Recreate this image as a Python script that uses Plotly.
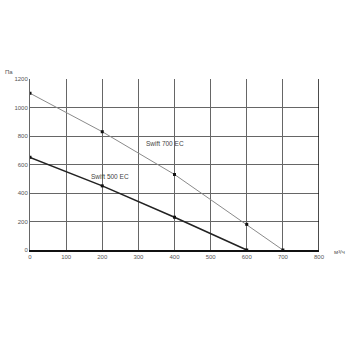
import plotly.graph_objects as go

flow_700 = [0, 200, 400, 600, 700]
pres_700 = [1100, 830, 530, 180, 0]
flow_500 = [0, 200, 400, 600]
pres_500 = [650, 450, 230, 0]
x_ticks = [0, 100, 200, 300, 400, 500, 600, 700, 800]
y_ticks = [0, 200, 400, 600, 800, 1000, 1200]

fig = go.Figure()
fig.add_trace(go.Scatter(x=flow_700, y=pres_700, mode="lines+markers",
                         line=dict(color="#8a8a8a", width=1),
                         marker=dict(symbol="square", size=3, color="#111")))
fig.add_trace(go.Scatter(x=flow_500, y=pres_500, mode="lines+markers",
                         line=dict(color="#222", width=1.6),
                         marker=dict(symbol="square", size=3, color="#111")))

fig.add_annotation(x=374, y=744, text="Swift 700 EC", showarrow=False,
                   font=dict(size=6.5, color="#444", family="Liberation Sans"))
fig.add_annotation(x=221, y=519, text="Swift 500 EC", showarrow=False,
                   font=dict(size=6.5, color="#444", family="Liberation Sans"))
fig.add_annotation(xref="paper", yref="paper", x=-0.095, y=1.07, text="Па", xanchor="left",
                   showarrow=False, font=dict(size=6, color="#555", family="Liberation Sans"))
fig.add_annotation(xref="paper", yref="paper", x=1.045, y=-0.04, text="м³/ч",
                   showarrow=False, xanchor="left", font=dict(size=6, color="#555", family="Liberation Sans"))

fig.add_shape(type="line", xref="x", yref="paper", x0=800, x1=800, y0=0, y1=1,
              line=dict(color="#111", width=1.5))

fig.update_xaxes(range=[0, 800], tickvals=x_ticks, showgrid=True, gridcolor="#666", gridwidth=1,
                 showline=True, linecolor="#111", linewidth=1.5, zeroline=False,
                 tickfont=dict(size=6, color="#555", family="Liberation Sans"), ticks="")
fig.update_yaxes(range=[0, 1200], tickvals=y_ticks, showgrid=True, gridcolor="#666", gridwidth=1,
                 showline=True, linecolor="#666", linewidth=1, zeroline=False,
                 tickfont=dict(size=6, color="#555", family="Liberation Sans"), ticks="")

fig.update_layout(width=356, height=356, margin=dict(l=30, r=37, t=79, b=106),
                  paper_bgcolor="white", plot_bgcolor="white", showlegend=False)
fig.write_html("out.html")
